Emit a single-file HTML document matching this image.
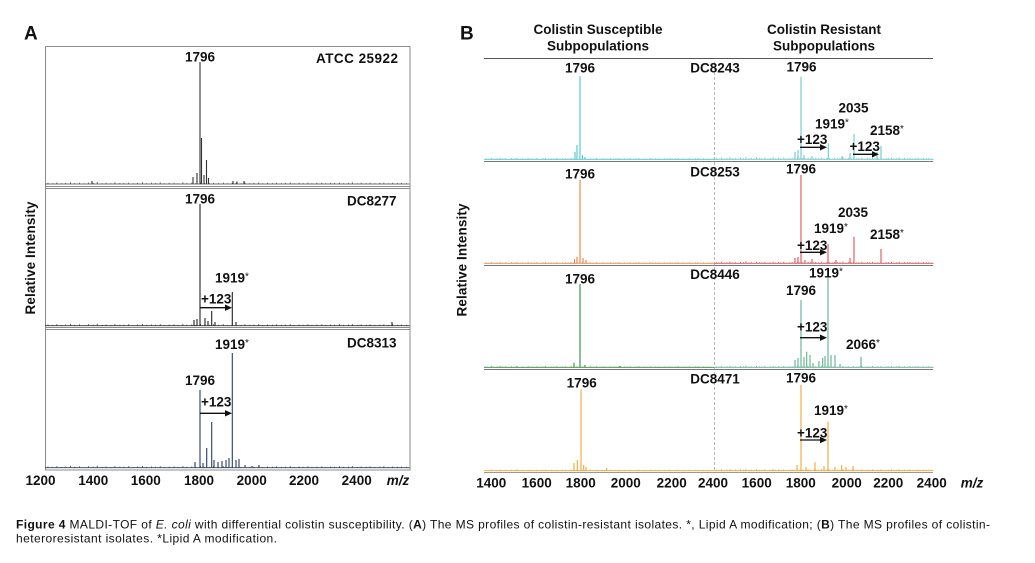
<!DOCTYPE html>
<html>
<head>
<meta charset="utf-8">
<style>
html,body{margin:0;padding:0;background:#fff;}
svg{display:block;}
text{font-family:"Liberation Sans",Arial,sans-serif;fill:#111;}
.lb{font-weight:bold;font-size:13.5px;}
.ast{font-weight:normal;font-size:10px;}
</style>
</head>
<body>
<svg width="1035" height="563" viewBox="0 0 1035 563" xmlns="http://www.w3.org/2000/svg">
<defs>
<path id="noise" vector-effect="non-scaling-stroke" d="M0 0H370 M3 0v-1.2 M8 0v-0.8 M12 0v-1.5 M17 0v-0.7 M21 0v-1.1 M26 0v-1.8 M30 0v-0.9 M35 0v-1.3 M40 0v-0.6 M44 0v-1.4 M49 0v-1 M53 0v-2 M58 0v-0.8 M62 0v-1.2 M67 0v-0.7 M71 0v-1.6 M76 0v-1 M80 0v-0.9 M85 0v-1.4 M90 0v-0.6 M94 0v-1.1 M99 0v-1.7 M103 0v-0.8 M108 0v-1.2 M112 0v-0.9 M117 0v-1.5 M121 0v-0.7 M126 0v-1.1 M131 0v-1.3 M135 0v-0.8 M140 0v-1.6 M144 0v-0.9 M149 0v-1.2 M153 0v-0.7 M158 0v-1.4 M162 0v-1 M167 0v-0.8 M171 0v-1.3 M176 0v-0.9 M181 0v-1.5 M185 0v-0.7 M190 0v-1.1 M194 0v-1.2 M199 0v-0.8 M203 0v-1.4 M208 0v-0.9 M212 0v-1.1 M217 0v-1.6 M221 0v-0.7 M226 0v-1.2 M231 0v-0.9 M235 0v-1.3 M240 0v-0.8 M244 0v-1.1 M249 0v-1.5 M253 0v-0.7 M258 0v-1.2 M262 0v-0.9 M267 0v-1.4 M271 0v-0.8 M276 0v-1.1 M281 0v-1.3 M285 0v-0.7 M290 0v-1.2 M294 0v-1 M299 0v-1.4 M303 0v-0.8 M308 0v-1.1 M312 0v-1.6 M317 0v-0.7 M321 0v-1.2 M326 0v-0.9 M330 0v-1.3 M335 0v-0.8 M340 0v-1.1 M344 0v-1.4 M349 0v-0.7 M353 0v-1.2 M358 0v-0.9 M362 0v-1.1 M367 0v-0.8"/>
</defs>

<!-- ================= PANEL A ================= -->
<text x="24" y="39.5" font-size="19" font-weight="bold">A</text>

<rect x="45.5" y="46.5" width="364.5" height="423.5" fill="none" stroke="#8c8c8c" stroke-width="1"/>
<line x1="45" y1="186.5" x2="410" y2="186.5" stroke="#8c8c8c" stroke-width="1"/>
<line x1="45" y1="188.5" x2="410" y2="188.5" stroke="#8c8c8c" stroke-width="1"/>
<line x1="45" y1="327.5" x2="410" y2="327.5" stroke="#8c8c8c" stroke-width="1"/>
<line x1="45" y1="329.5" x2="410" y2="329.5" stroke="#8c8c8c" stroke-width="1"/>

<!-- A top: ATCC 25922 -->
<use href="#noise" transform="translate(45,184) scale(0.985,1)" stroke="#444" stroke-width="0.8" fill="none"/>
<path d="M200 184V62 M201.5 184V138 M206.5 184V160 M193 184V177 M197 184V173 M204 184V175 M208.5 184V178 M92 184V181 M233 184V181 M237 184V181.5 M244 184V181" stroke="#333" stroke-width="1.1" fill="none"/>
<text class="lb" x="200" y="61.5" text-anchor="middle">1796</text>
<text class="lb" x="316" y="63" textLength="82" lengthAdjust="spacing">ATCC 25922</text>

<!-- A middle: DC8277 -->
<use href="#noise" transform="translate(45,325.7) scale(0.985,1)" stroke="#333" stroke-width="0.8" fill="none"/>
<path d="M200 325.7V204 M232.3 325.7V292 M211.7 325.7V311 M194 325.7V320 M197 325.7V319 M205 325.7V318 M208 325.7V321 M215 325.7V322 M236 325.7V322 M392 325.7V322" stroke="#222" stroke-width="1.1" fill="none"/>
<text class="lb" x="200" y="203.3" text-anchor="middle">1796</text>
<text class="lb" x="347" y="205.7">DC8277</text>
<text class="lb" x="215" y="282.3">1919<tspan class="ast" dy="-3">*</tspan></text>
<text class="lb" x="201" y="303.3">+123</text>
<line x1="200" y1="307.7" x2="226" y2="307.7" stroke="#111" stroke-width="1.3"/>
<polygon points="225,304.5 232,307.7 225,310.9" fill="#111"/>

<!-- A bottom: DC8313 -->
<use href="#noise" transform="translate(45,467.7) scale(0.985,1)" stroke="#2c3e63" stroke-width="0.8" fill="none"/>
<path d="M200 467.7V390 M232.3 467.7V353 M211.7 467.7V422 M206.7 467.7V448 M195 467.7V462 M203 467.7V463 M214 467.7V460 M218 467.7V462 M222 467.7V461 M226 467.7V460 M229 467.7V458 M236 467.7V460 M239 467.7V459 M245 467.7V465 M252 467.7V466 M259 467.7V465" stroke="#2c3e63" stroke-width="1.1" fill="none"/>
<text class="lb" x="215" y="349">1919<tspan class="ast" dy="-3">*</tspan></text>
<text class="lb" x="347" y="347.7">DC8313</text>
<text class="lb" x="200" y="385" text-anchor="middle">1796</text>
<text class="lb" x="201" y="406.7">+123</text>
<line x1="200" y1="413.3" x2="226" y2="413.3" stroke="#111" stroke-width="1.3"/>
<polygon points="225,410.1 232,413.3 225,416.5" fill="#111"/>

<!-- A x-axis labels -->
<text class="lb" x="40.5" y="485" text-anchor="middle">1200</text>
<text class="lb" x="93.3" y="485" text-anchor="middle">1400</text>
<text class="lb" x="145.8" y="485" text-anchor="middle">1600</text>
<text class="lb" x="199" y="485" text-anchor="middle">1800</text>
<text class="lb" x="251.7" y="485" text-anchor="middle">2000</text>
<text class="lb" x="304" y="485" text-anchor="middle">2200</text>
<text class="lb" x="356.7" y="485" text-anchor="middle">2400</text>
<text class="lb" x="398" y="485" text-anchor="middle" font-style="italic">m/z</text>
<text class="lb" transform="translate(35,258) rotate(-90)" x="0" y="0" text-anchor="middle" textLength="113" lengthAdjust="spacing">Relative Intensity</text>

<!-- ================= PANEL B ================= -->
<text x="460" y="39.5" font-size="19" font-weight="bold">B</text>
<text class="lb" x="598" y="34" text-anchor="middle" font-size="14">Colistin Susceptible</text>
<text class="lb" x="598" y="50.5" text-anchor="middle" font-size="14">Subpopulations</text>
<text class="lb" x="824" y="34" text-anchor="middle" font-size="14">Colistin Resistant</text>
<text class="lb" x="824" y="50.5" text-anchor="middle" font-size="14">Subpopulations</text>
<line x1="484" y1="58.5" x2="933" y2="58.5" stroke="#555" stroke-width="1"/>

<line x1="714.5" y1="62" x2="714.5" y2="471" stroke="#b8b8b8" stroke-width="1" stroke-dasharray="3,2"/>

<line x1="484" y1="161.5" x2="933" y2="161.5" stroke="#777" stroke-width="1"/>
<line x1="484" y1="265.5" x2="933" y2="265.5" stroke="#777" stroke-width="1"/>
<line x1="484" y1="369.5" x2="933" y2="369.5" stroke="#777" stroke-width="1"/>
<line x1="484" y1="472.5" x2="933" y2="472.5" stroke="#999" stroke-width="1"/>

<!-- Row 1: DC8243 -->
<use href="#noise" transform="translate(484,159.3) scale(0.622,0.8)" stroke="#4cc6cc" stroke-width="0.9" fill="none"/>
<use href="#noise" transform="translate(714.5,159.3) scale(0.592,1.2)" stroke="#6ccaca" stroke-width="0.9" fill="none"/>
<path d="M580 159.3V76 M577 159.3V145 M575 159.3V152 M582.5 159.3V155 M585 159.3V157" stroke="#4cc6cc" stroke-width="1.1" fill="none"/>
<path d="M801 159.3V76.7 M828.3 159.3V143.3 M854 159.3V134 M881 159.3V146 M795 159.3V152 M798 159.3V150 M804 159.3V155 M850 159.3V153 M877 159.3V152 M812 159.3V156 M842 159.3V156" stroke="#6ccaca" stroke-width="1.1" fill="none"/>
<text class="lb" x="580" y="72.5" text-anchor="middle">1796</text>
<text class="lb" x="715" y="72.5" text-anchor="middle">DC8243</text>
<text class="lb" x="801.5" y="71.7" text-anchor="middle">1796</text>
<text class="lb" x="853.5" y="112.7" text-anchor="middle">2035</text>
<text class="lb" x="815" y="128.3">1919<tspan class="ast" dy="-3">*</tspan></text>
<text class="lb" x="870" y="135">2158<tspan class="ast" dy="-3">*</tspan></text>
<text class="lb" x="797" y="144">+123</text>
<line x1="800" y1="147.3" x2="821" y2="147.3" stroke="#111" stroke-width="1.3"/>
<polygon points="820,144.1 827,147.3 820,150.5" fill="#111"/>
<text class="lb" x="849.5" y="151">+123</text>
<line x1="853" y1="154.3" x2="873" y2="154.3" stroke="#111" stroke-width="1.3"/>
<polygon points="872,151.1 879,154.3 872,157.5" fill="#111"/>

<!-- Row 2: DC8253 -->
<use href="#noise" transform="translate(484,263.3) scale(0.622,0.8)" stroke="#ee8a4a" stroke-width="0.9" fill="none"/>
<use href="#noise" transform="translate(714.5,263.3) scale(0.592,1)" stroke="#e0505a" stroke-width="0.9" fill="none"/>
<path d="M580 263.3V180 M577 263.3V256.7 M574.5 263.3V259 M583 263.3V258 M586 263.3V260" stroke="#ee7f3a" stroke-width="1.1" fill="none"/>
<path d="M801 263.3V175 M828 263.3V244 M854 263.3V236.7 M881 263.3V249 M795 263.3V258 M798 263.3V257 M850 263.3V258 M812 263.3V259 M805 263.3V260 M836 263.3V260" stroke="#e0505a" stroke-width="1.1" fill="none"/>
<text class="lb" x="580" y="178.3" text-anchor="middle">1796</text>
<text class="lb" x="715" y="176.7" text-anchor="middle">DC8253</text>
<text class="lb" x="801" y="173.3" text-anchor="middle">1796</text>
<text class="lb" x="853" y="217" text-anchor="middle">2035</text>
<text class="lb" x="814" y="233">1919<tspan class="ast" dy="-3">*</tspan></text>
<text class="lb" x="870" y="239">2158<tspan class="ast" dy="-3">*</tspan></text>
<text class="lb" x="797" y="250">+123</text>
<line x1="800" y1="252.3" x2="821" y2="252.3" stroke="#111" stroke-width="1.3"/>
<polygon points="820,249.1 827,252.3 820,255.5" fill="#111"/>

<!-- Row 3: DC8446 -->
<use href="#noise" transform="translate(484,367.3) scale(0.622,0.6)" stroke="#2e8b3f" stroke-width="0.9" fill="none"/>
<use href="#noise" transform="translate(714.5,367.3) scale(0.592,0.8)" stroke="#5fb08f" stroke-width="0.9" fill="none"/>
<path d="M580 367.3V284 M574 367.3V362.7 M585 367.3V365 M620 367.3V366" stroke="#2e8b3f" stroke-width="1.1" fill="none"/>
<path d="M801 367.3V300 M828 367.3V278 M861 367.3V356.7 M795 367.3V360 M798 367.3V358 M804 367.3V357 M806.7 367.3V351.7 M810 367.3V355 M813 367.3V363 M819 367.3V361 M822.7 367.3V358 M825 367.3V356 M831 367.3V355 M835 367.3V355 M840 367.3V364" stroke="#5fb08f" stroke-width="1.1" fill="none"/>
<text class="lb" x="580" y="283.3" text-anchor="middle">1796</text>
<text class="lb" x="715" y="279" text-anchor="middle">DC8446</text>
<text class="lb" x="809" y="277.3">1919<tspan class="ast" dy="-3">*</tspan></text>
<text class="lb" x="801" y="295" text-anchor="middle">1796</text>
<text class="lb" x="797" y="331.7">+123</text>
<line x1="800" y1="337.7" x2="821" y2="337.7" stroke="#111" stroke-width="1.3"/>
<polygon points="820,334.5 827,337.7 820,340.9" fill="#111"/>
<text class="lb" x="846" y="349">2066<tspan class="ast" dy="-3">*</tspan></text>

<!-- Row 4: DC8471 -->
<use href="#noise" transform="translate(484,470.7) scale(0.622,0.7)" stroke="#f0a733" stroke-width="0.9" fill="none"/>
<use href="#noise" transform="translate(714.5,470.7) scale(0.592,1)" stroke="#f0a733" stroke-width="0.9" fill="none"/>
<path d="M581 470.7V389.3 M577.3 470.7V460 M583.7 470.7V465 M574 470.7V463 M586 470.7V467 M606.7 470.7V468" stroke="#f0a733" stroke-width="1.1" fill="none"/>
<path d="M801 470.7V385 M828 470.7V421.7 M815 470.7V462.3 M797 470.7V465 M806 470.7V467 M824 470.7V466 M841.7 470.7V465 M846 470.7V467 M853 470.7V466 M835 470.7V467" stroke="#f0a733" stroke-width="1.1" fill="none"/>
<text class="lb" x="581.7" y="387.7" text-anchor="middle">1796</text>
<text class="lb" x="715" y="383.3" text-anchor="middle">DC8471</text>
<text class="lb" x="801" y="382.3" text-anchor="middle">1796</text>
<text class="lb" x="814" y="415">1919<tspan class="ast" dy="-3">*</tspan></text>
<text class="lb" x="797" y="437.3">+123</text>
<line x1="800" y1="440" x2="821" y2="440" stroke="#111" stroke-width="1.3"/>
<polygon points="820,436.8 827,440 820,443.2" fill="#111"/>

<!-- B x-axis labels -->
<text class="lb" x="491.3" y="487.3" text-anchor="middle">1400</text>
<text class="lb" x="536.7" y="487.3" text-anchor="middle">1600</text>
<text class="lb" x="580.7" y="487.3" text-anchor="middle">1800</text>
<text class="lb" x="625.8" y="487.3" text-anchor="middle">2000</text>
<text class="lb" x="671.7" y="487.3" text-anchor="middle">2200</text>
<text class="lb" x="713" y="487.3" text-anchor="middle">2400</text>
<text class="lb" x="756.7" y="487.3" text-anchor="middle">1600</text>
<text class="lb" x="800.8" y="487.3" text-anchor="middle">1800</text>
<text class="lb" x="846.7" y="487.3" text-anchor="middle">2000</text>
<text class="lb" x="888.3" y="487.3" text-anchor="middle">2200</text>
<text class="lb" x="931.7" y="487.3" text-anchor="middle">2400</text>
<text class="lb" x="972" y="487.3" text-anchor="middle" font-style="italic">m/z</text>

<text class="lb" transform="translate(466.5,260) rotate(-90)" x="0" y="0" text-anchor="middle" textLength="113" lengthAdjust="spacing">Relative Intensity</text>

<!-- ================= CAPTION ================= -->
<text x="16" y="528.3" font-size="12" fill="#222" textLength="974" lengthAdjust="spacing"><tspan font-weight="bold">Figure 4</tspan> MALDI-TOF of <tspan font-style="italic">E. coli</tspan> with differential colistin susceptibility. (<tspan font-weight="bold">A</tspan>) The MS profiles of colistin-resistant isolates. *, Lipid A modification; (<tspan font-weight="bold">B</tspan>) The MS profiles of colistin-</text>
<text x="16" y="542.7" font-size="12" fill="#222" textLength="261" lengthAdjust="spacing">heteroresistant isolates. *Lipid A modification.</text>
</svg>
</body>
</html>
